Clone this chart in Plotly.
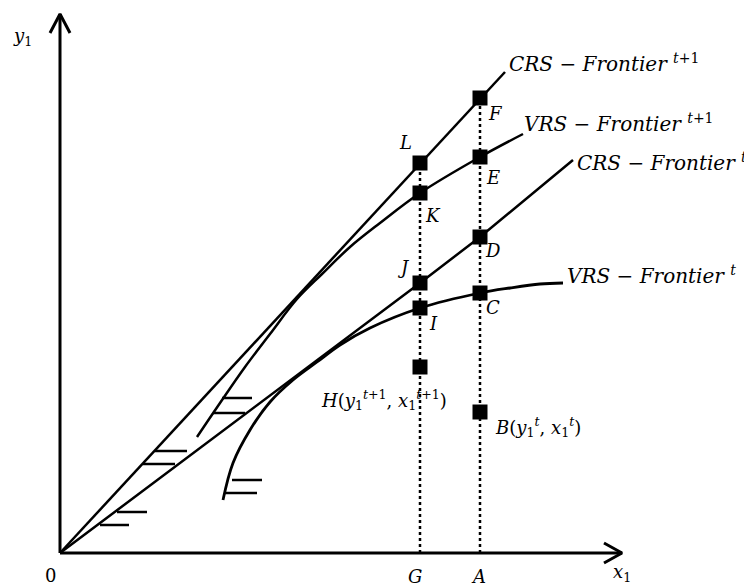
import plotly.graph_objects as go

# frontier curves (x1, y1), origin at 0
crs_t1_x = [0, 445]
crs_t1_y = [0, 481]
vrs_t1_x = [137, 160, 185, 210, 237, 262, 290, 320, 360, 420, 463]
vrs_t1_y = [116, 150, 186, 219, 254, 279, 306, 330, 360, 396, 419]
crs_t_x = [0, 360, 420, 513]
crs_t_y = [0, 270, 316, 393]
vrs_t_x = [163, 173, 190, 210, 233, 257, 280, 310, 360, 420, 450, 480, 503]
vrs_t_y = [53, 90, 123, 151, 173, 191, 208, 225, 245, 260, 265, 269, 270]

# labelled points
pt_names = ["F", "E", "D", "C", "B", "L", "K", "J", "I", "H"]
pt_x = [420, 420, 420, 420, 420, 360, 360, 360, 360, 360]
pt_y = [455, 396, 316, 260, 141, 390, 360, 270, 245, 186]

# x1 positions G and A with dotted verticals
g_x, a_x = 360, 420
g_top, a_top = 390, 455

# hatching ticks: (x start, x end, y)
hatches = [
    (162, 192, 155), (153, 185, 140),
    (95, 127, 102), (83, 115, 89),
    (57, 87, 41), (40, 69, 28),
    (172, 202, 73), (165, 197, 60),
]

x_max, y_max = 562, 539

fig = go.Figure()
line = dict(color="black", width=2.5)

fig.add_trace(go.Scatter(x=crs_t1_x, y=crs_t1_y, mode="lines", line=line))
fig.add_trace(go.Scatter(x=vrs_t1_x, y=vrs_t1_y, mode="lines",
                         line=dict(color="black", width=2.5, shape="spline")))
fig.add_trace(go.Scatter(x=crs_t_x, y=crs_t_y, mode="lines", line=line))
fig.add_trace(go.Scatter(x=vrs_t_x, y=vrs_t_y, mode="lines",
                         line=dict(color="black", width=2.8, shape="spline")))

dot = dict(color="black", width=2.5, dash="dot")
fig.add_trace(go.Scatter(x=[g_x, g_x], y=[0, g_top], mode="lines", line=dot))
fig.add_trace(go.Scatter(x=[a_x, a_x], y=[0, a_top], mode="lines", line=dot))

for x0, x1, y in hatches:
    fig.add_trace(go.Scatter(x=[x0, x1], y=[y, y], mode="lines", line=line))

# axes with open arrow heads
ax = dict(color="black", width=3)
fig.add_trace(go.Scatter(x=[0, 0], y=[0, y_max], mode="lines", line=ax))
fig.add_trace(go.Scatter(x=[0, x_max], y=[0, 0], mode="lines", line=ax))
fig.add_trace(go.Scatter(x=[-10, 0, 10], y=[y_max - 19, y_max, y_max - 19],
                         mode="lines", line=ax))
fig.add_trace(go.Scatter(x=[x_max - 18, x_max, x_max - 18], y=[10, 0, -10],
                         mode="lines", line=ax))

fig.add_trace(go.Scatter(x=pt_x, y=pt_y, mode="markers",
                         marker=dict(symbol="square", size=15, color="black")))

font = dict(family="DejaVu Serif", size=18, color="black")
big = dict(family="DejaVu Serif", size=20, color="black")

pt_lbl = {"F": (435, 440), "E": (433, 376), "D": (433, 303), "C": (433, 246),
          "L": (345, 411), "K": (373, 338), "J": (343, 286), "I": (373, 230)}
for n, (x, y) in pt_lbl.items():
    fig.add_annotation(x=x, y=y, text=f"<i>{n}</i>", showarrow=False, font=font)

fig.add_annotation(x=324, y=153, text="<i>H</i>(<i>y</i><sub>1</sub><sup><i>t</i>+1</sup>, <i>x</i><sub>1</sub><sup><i>t</i>+1</sup>)",
                   showarrow=False, font=font)
fig.add_annotation(x=433, y=126, xanchor="left",
                   text="<i>B</i>(<i>y</i><sub>1</sub><sup><i>t</i></sup>, <i>x</i><sub>1</sub><sup><i>t</i></sup>)",
                   showarrow=False, font=font)

frontiers = [
    ("<i>CRS</i> − <i>Frontier</i> <sup><i>t</i>+1</sup>", 447, 490),
    ("<i>VRS</i> − <i>Frontier</i> <sup><i>t</i>+1</sup>", 462, 430),
    ("<i>CRS</i> − <i>Frontier</i> <sup><i>t</i></sup>", 515, 391),
    ("<i>VRS</i> − <i>Frontier</i> <sup><i>t</i></sup>", 505, 278),
]
for txt, x, y in frontiers:
    fig.add_annotation(x=x, y=y, xanchor="left", text=txt, showarrow=False, font=big)

axis_lbl = [
    ("<i>y</i><sub>1</sub>", -38, 516),
    ("0", -10, -22),
    ("<i>G</i>", 355, -23),
    ("<i>A</i>", 418, -23),
    ("<i>x</i><sub>1</sub>", 562, -20),
]
for txt, x, y in axis_lbl:
    fig.add_annotation(x=x, y=y, text=txt, showarrow=False, font=font)

# page body has an 8px margin, so the figure is 8px smaller and ranges shifted
fig.update_layout(
    width=744, height=579, margin=dict(l=0, r=0, t=0, b=0),
    showlegend=False, plot_bgcolor="white", paper_bgcolor="white",
    xaxis=dict(range=[-52, 692], visible=False),
    yaxis=dict(range=[-34, 545], visible=False),
)
fig.write_html("out.html")
